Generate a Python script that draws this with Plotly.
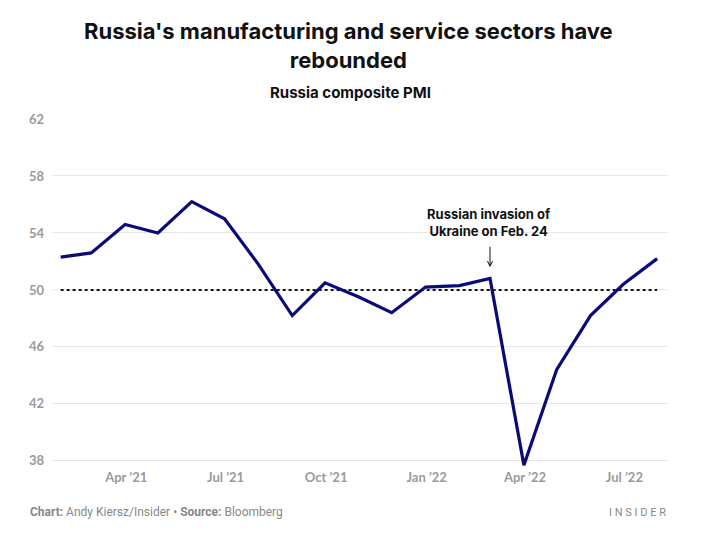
import plotly.graph_objects as go

dates = ["2021-01-31", "2021-02-28", "2021-03-31", "2021-04-30", "2021-05-31", "2021-06-30",
         "2021-07-31", "2021-08-31", "2021-09-30", "2021-10-31", "2021-11-30", "2021-12-31",
         "2022-01-31", "2022-02-28", "2022-03-31", "2022-04-30", "2022-05-31", "2022-06-30",
         "2022-07-31"]
pmi = [52.3, 52.6, 54.6, 54.0, 56.2, 55.0, 51.8, 48.2, 50.5, 49.5, 48.4, 50.2,
       50.3, 50.8, 37.7, 44.4, 48.2, 50.4, 52.2]

tick_vals = ["2021-04-01", "2021-07-01", "2021-10-01", "2022-01-01", "2022-04-01", "2022-07-01"]
tick_text = ["Apr \u201921", "Jul \u201921", "Oct \u201921", "Jan \u201922", "Apr \u201922", "Jul \u201922"]
y_ticks = [38, 42, 46, 50, 54, 58, 62]

W, H = 701, 554
L, R, T, B = 53, 34, 119, 86
ph = H - T - B
pw = W - L - R


def px_to_paper_y(py):
    return (H - B - py) / ph


def px_to_paper_x(px):
    return (px - L) / pw


fig = go.Figure()

fig.add_trace(go.Scatter(
    x=[dates[0], dates[-1]], y=[50, 50], mode="lines",
    line=dict(color="#111111", width=2, dash="dot"), hoverinfo="skip", showlegend=False))

fig.add_trace(go.Scatter(
    x=dates, y=pmi, mode="lines",
    line=dict(color="#0b0b78", width=3.2), showlegend=False))

title_font = "Inter, Roboto, sans-serif"
foot_font = "Roboto, 'Liberation Sans', Arial, sans-serif"
tick_font = "Lato, 'Open Sans', sans-serif"

annotations = [
    dict(text="<b>Russia's manufacturing and service sectors have<br>rebounded</b>",
         xref="paper", yref="paper", x=px_to_paper_x(348), y=px_to_paper_y(45),
         xanchor="center", yanchor="middle", showarrow=False,
         font=dict(family=title_font, size=22, color="#111111")),
    dict(text="<b>Russia composite PMI</b>",
         xref="paper", yref="paper", x=px_to_paper_x(350), y=px_to_paper_y(93),
         xanchor="center", yanchor="middle", showarrow=False,
         font=dict(family=title_font, size=15, color="#111111")),
    dict(text="<b>Russian invasion of<br>Ukraine on Feb. 24</b>",
         xref="paper", yref="paper", x=px_to_paper_x(489), y=px_to_paper_y(222.5),
         xanchor="center", yanchor="middle", showarrow=False,
         font=dict(family=title_font, size=13, color="#111111")),
    dict(text="", x="2022-02-28", y=51.59, xref="x", yref="y",
         showarrow=True, ax=0, ay=-22, arrowhead=5, arrowsize=1, arrowwidth=1,
         arrowcolor="#111111"),
    dict(text="<b>Chart:</b> Andy Kiersz/Insider \u2022 <b>Source:</b> Bloomberg",
         xref="paper", yref="paper", x=px_to_paper_x(28), y=px_to_paper_y(512),
         xanchor="left", yanchor="middle", showarrow=False,
         font=dict(family=foot_font, size=12, color="#888888")),
    dict(text="I N S I D E R",
         xref="paper", yref="paper", x=px_to_paper_x(668), y=px_to_paper_y(512),
         xanchor="right", yanchor="middle", showarrow=False,
         font=dict(family=foot_font, size=11, color="#888888")),
]

fig.update_layout(
    width=W, height=H, autosize=False,
    margin=dict(l=L, r=R, t=T, b=B),
    paper_bgcolor="white", plot_bgcolor="white",
    annotations=annotations,
    xaxis=dict(type="date", range=["2021-01-24", "2022-08-09"],
               tickvals=tick_vals, ticktext=tick_text, showgrid=False,
               zeroline=False, showline=False, ticks="",
               tickfont=dict(family=tick_font, size=13, color="#9a9a9a", weight="bold")),
    yaxis=dict(range=[37.5, 62], tickvals=y_ticks, showgrid=True,
               gridcolor="#e6e6e6", gridwidth=1, zeroline=False, showline=False,
               ticks="", ticklabelstandoff=8,
               tickfont=dict(family=tick_font, size=13, color="#9a9a9a", weight="bold")),
)

fig.write_html("out.html", config={"displayModeBar": False},
               post_script="document.body.style.margin='0';")
